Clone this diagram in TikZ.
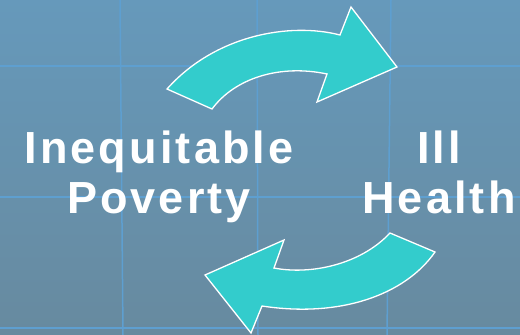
\documentclass[tikz,border=0pt]{standalone}
\usepackage{fontspec}
\setmainfont{Liberation Sans}
\newfontfamily\labfont[LetterSpace=7]{Liberation Sans Bold}
\definecolor{bgtop}{HTML}{6699BB}
\definecolor{bgbot}{HTML}{678A9F}
\definecolor{gridc}{HTML}{5E9FD0}
\definecolor{turq}{HTML}{33CCCC}
\tikzset{
  arrowshape/.style={fill=turq,draw=white,line width=1.3pt,line join=miter},
  gridline/.style={draw=gridc,line width=1.5pt},
  label/.style={text=white,font=\labfont\fontsize{45}{50}\selectfont,align=center,inner sep=0pt}
}
\begin{document}
\begin{tikzpicture}[x=1pt,y=-1pt]
\useasboundingbox (0,0) rectangle (520,335);
\shade[top color=bgtop,bottom color=bgbot] (0,0) rectangle (520,335);
% grid
\draw[gridline] (120,0) -- (123,335);
\draw[gridline] (257,0) -- (258,335);
\draw[gridline] (391,0) -- (387,335);
\draw[gridline] (0,66) -- (520,66);
\draw[gridline] (0,197) -- (520,197);
\draw[gridline] (0,328) -- (520,328);
% top arrow
\path[arrowshape] (167,89) .. controls (215,35) and (290,22) .. (340,35)
  -- (351,7) -- (397,67) -- (317,102) -- (327,74)
  .. controls (280,64) and (235,78) .. (212,109) -- cycle;
% bottom arrow
\path[arrowshape] (435,252) .. controls (405,295) and (340,318) .. (262,306)
  -- (251,333) -- (205,275) -- (284,240) -- (274,268)
  .. controls (310,275) and (360,265) .. (390,233) -- cycle;
% labels
\node[label,anchor=base] (pov) at (159,213) {Inequitable\\Poverty};
\node[label,anchor=base] (ill) at (439,213) {Ill\\Health};
\end{tikzpicture}
\end{document}
